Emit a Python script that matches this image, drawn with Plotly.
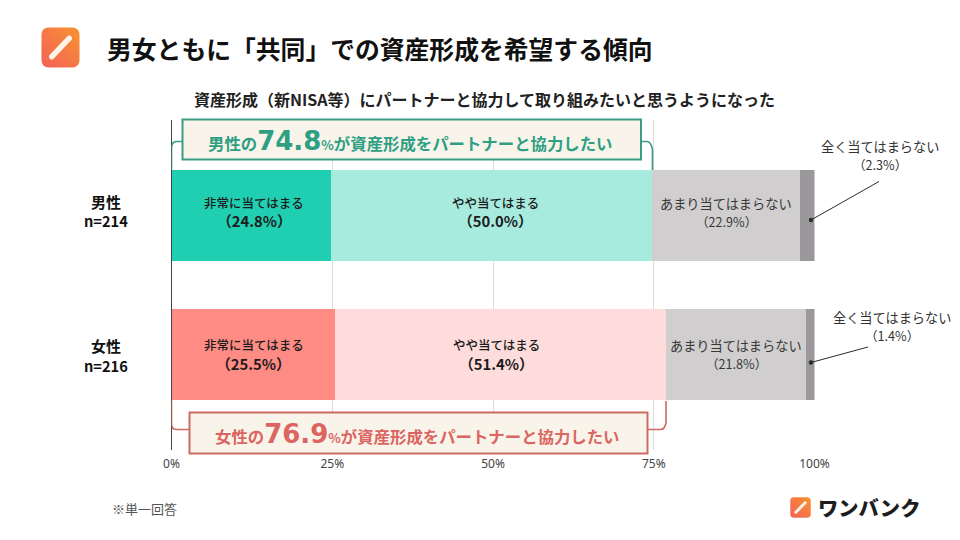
import base64
import plotly.graph_objects as go

W, H = 960, 540
JP = "Noto Sans CJK JP"

# Survey results (%)
groups = ["男性", "女性"]
respondents = [214, 216]
answers = ["非常に当てはまる", "やや当てはまる", "あまり当てはまらない", "全く当てはまらない"]
strongly_agree = [24.8, 25.5]
somewhat_agree = [50.0, 51.4]
somewhat_disagree = [22.9, 21.8]
strongly_disagree = [2.3, 1.4]
agree_total = [74.8, 76.9]

# Colours per group for the two "agree" segments, then greys
strong_colors = ["#20cfb1", "#ff8b85"]
mild_colors = ["#a7ebdf", "#ffdcdc"]
grey_colors = ["#d0cecf", "#d0cecf"]
dark_grey_colors = ["#9a989b", "#9a989b"]
accent_colors = ["#2f9f84", "#dc6461"]
box_border_colors = ["#3a9c84", "#cf6a63"]
box_fill = "#f8f4ea"

# Plot frame in page pixels
LEFT, RIGHT, TOP, BOTTOM = 171.5, 814.5, 120, 449.5


def fx(px):
    return px / W


def fy(py):
    return 1 - py / H


def data_x(px):
    return (px - LEFT) / (RIGHT - LEFT) * 100


def logo_uri(size):
    svg = f"""<svg xmlns='http://www.w3.org/2000/svg' width='{size}' height='{size}' viewBox='0 0 40 40'>
<defs><linearGradient id='g' x1='1' y1='0' x2='0' y2='1'>
<stop offset='0' stop-color='#f7932e'/><stop offset='1' stop-color='#f4605a'/></linearGradient></defs>
<rect x='0.5' y='0.5' width='39' height='39' rx='7' fill='url(#g)'/>
<line x1='11' y1='29' x2='29' y2='11' stroke='#fff4ea' stroke-width='5.5' stroke-linecap='round'/>
</svg>"""
    return "data:image/svg+xml;base64," + base64.b64encode(svg.encode()).decode()


fig = go.Figure()
shapes = []
annotations = []

segments = [
    (strongly_agree, strong_colors),
    (somewhat_agree, mild_colors),
    (somewhat_disagree, grey_colors),
    (strongly_disagree, dark_grey_colors),
]
for (values, colors), name in zip(segments, answers):
    fig.add_trace(go.Bar(
        y=groups, x=values, name=name, orientation="h",
        marker=dict(color=colors, line=dict(width=0)),
        hoverinfo="skip", showlegend=False,
    ))


def bar_line(text, x, row, yshift, xshift, size, color):
    annotations.append(dict(
        text=text, x=x, y=groups[row], xref="x", yref="y", xshift=xshift, yshift=yshift,
        showarrow=False, xanchor="center", yanchor="middle",
        font=dict(family=JP, size=size, color=color),
    ))


# Two-line labels inside the bars, centred on each segment
for row in range(2):
    start = 0
    for col, (values, _) in enumerate(segments[:3]):
        v = values[row]
        mid = start + v / 2
        start += v
        if col == 2:
            up, down = [(11.5, -6.5), (9, -9)][row]
            bar_line(answers[col], mid, row, up, 0, 13.2, "#383838")
            bar_line(f"（{v:.1f}%）", mid, row, down, 0, 12.6, "#383838")
        else:
            up, down = [(12.5, -5.5), (10, -9)][row]
            nudge = [[3, 4], [0.5, -4]][row][col]
            bar_line(f"<span style='font-weight:500'>{answers[col]}</span>", mid, row, up, nudge, 12.5, "#1c1c1c")
            bar_line(f"<b>（{v:.1f}%）</b>", mid, row, down, nudge, 14.8, "#1c1c1c")


def note(text, px, py, size, color="#111111", xanchor="center", family=JP, weight=None):
    font = dict(family=family, size=size, color=color)
    if weight:
        font["weight"] = weight
    annotations.append(dict(
        text=text, x=fx(px), y=fy(py), xref="paper", yref="paper",
        showarrow=False, font=font, xanchor=xanchor, yanchor="middle", align="center",
    ))


def callout(i, x0, x1, y0, y1, path_fn):
    """Framed headline with a bracket reaching from the axis to the agree total."""
    color = box_border_colors[i]
    shapes.append(dict(type="path", path=path_fn(agree_total[i]), xref="x", yref="paper",
                       line=dict(color=color, width=1.6), layer="above"))
    shapes.append(dict(type="rect", x0=fx(x0), x1=fx(x1), y0=fy(y1), y1=fy(y0),
                       xref="paper", yref="paper", fillcolor=box_fill,
                       line=dict(color=color, width=2), layer="above"))
    label = (f"{groups[i]}の<span style='font-family:DejaVu Sans;font-weight:800;font-size:26px'>{agree_total[i]}</span>"
             f"<span style='font-size:13px'>%</span>が資産形成をパートナーと協力したい")
    note(f"<b>{label}</b>", (x0 + x1) / 2 - 1, (y0 + y1) / 2 + 1, 16.4, accent_colors[i])


def male_bracket(total):
    y = fy
    return (f"M 0 {y(170)} L 0 {y(148)} Q 0 {y(141.5)} {data_x(177)} {y(141.5)} L {data_x(185)} {y(141.5)} "
            f"M {data_x(640)} {y(141.5)} L {total - 0.9} {y(141.5)} Q {total - 0.2} {y(141.5)} {total} {y(150)} L {total} {y(170)}")


def female_bracket(total):
    y = fy
    return (f"M 0 {y(401)} L 0 {y(424)} Q 0 {y(429.5)} {data_x(177)} {y(429.5)} L {data_x(192)} {y(429.5)} "
            f"M {data_x(645)} {y(429.5)} L {total - 0.9} {y(429.5)} Q {total - 0.2} {y(429.5)} {total} {y(423)} L {total} {y(401)}")


callout(0, 182.5, 641, 119.5, 159.5, male_bracket)
callout(1, 189.5, 647.5, 412.5, 453.5, female_bracket)

# Leader lines for the thin "strongly disagree" segments
leaders = [(879, 181.5, 811, 220), (868, 347, 811, 362.5)]
for x0, y0, x1, y1 in leaders:
    shapes.append(dict(type="line", x0=fx(x0), y0=fy(y0), x1=fx(x1), y1=fy(y1),
                       xref="paper", yref="paper", line=dict(color="#2c2c2c", width=1), layer="above"))
    shapes.append(dict(type="circle", x0=fx(x1 - 2.2), x1=fx(x1 + 2.2), y0=fy(y1 + 2.2), y1=fy(y1 - 2.2),
                       xref="paper", yref="paper", fillcolor="#2c2c2c", line=dict(width=0), layer="above"))

note(answers[3], 879.5, 146, 13.2, "#333333")
note(f"（{strongly_disagree[0]}%）", 879.5, 164, 12.6, "#333333")
note(answers[3], 892, 317, 13.2, "#333333")
note(f"（{strongly_disagree[1]}%）", 892, 335, 12.6, "#333333")

# Row headings
note(f"<b>{groups[0]}</b>", 106, 202, 15)
note(f"<b>n={respondents[0]}</b>", 106, 221, 14.6)
note(f"<b>{groups[1]}</b>", 106, 345, 15)
note(f"<b>n={respondents[1]}</b>", 106, 365, 14.6)

# Headings, footnote, brand mark
note("<b>男女ともに「共同」での資産形成を希望する傾向</b>", 104.5, 48, 24.8, xanchor="left")
note("<b>資産形成（新NISA等）にパートナーと協力して取り組みたいと思うようになった</b>", 484, 99, 16, "#222222")
note("※単一回答", 144, 508, 13, "#555555")
note("ワンバンク", 816, 507, 20.3, "#1d1d1d", xanchor="left", family="Noto Sans CJK JP Black", weight=900)

images = [
    dict(source=logo_uri(80), xref="paper", yref="paper", x=fx(41), y=fy(27), sizex=39 / W, sizey=41 / H,
         xanchor="left", yanchor="top", sizing="stretch", layer="above"),
    dict(source=logo_uri(44), xref="paper", yref="paper", x=fx(790), y=fy(497), sizex=21 / W, sizey=21 / H,
         xanchor="left", yanchor="top", sizing="stretch", layer="above"),
]

fig.update_layout(
    width=W, height=H, margin=dict(l=0, r=0, t=0, b=0, autoexpand=False),
    paper_bgcolor="#ffffff", plot_bgcolor="#ffffff",
    barmode="stack", bargap=0.348, showlegend=False,
    shapes=shapes, annotations=annotations, images=images,
    xaxis=dict(
        domain=[fx(LEFT), fx(RIGHT)], range=[0, 100], automargin=False,
        tickmode="array", tickvals=[0, 25, 50, 75, 100],
        ticktext=["0%", "25%", "50%", "75%", "100%"],
        tickfont=dict(family="Noto Sans", size=12, color="#444444"),
        ticklabelstandoff=5,
        showgrid=True, gridcolor="#dedbdb", gridwidth=1, zeroline=False,
        showline=False, ticks="", fixedrange=True,
    ),
    yaxis=dict(
        domain=[fy(BOTTOM), fy(TOP)], type="category", automargin=False,
        categoryorder="array", categoryarray=groups,
        range=[1.68, -0.685], showticklabels=False, showgrid=False,
        zeroline=False, showline=True, linecolor="#444444", linewidth=1,
        ticks="", fixedrange=True,
    ),
)

fig.write_html("out.html", config={"displayModeBar": False})
